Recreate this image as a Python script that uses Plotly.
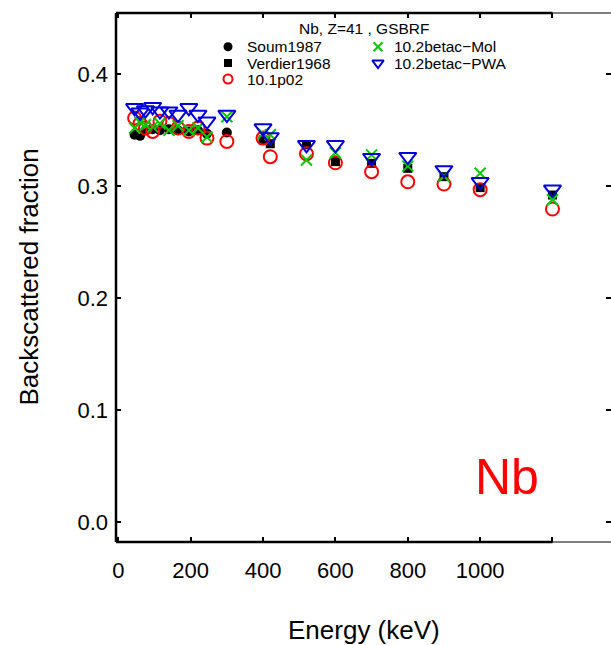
import plotly.graph_objects as go

# ---------------- data ----------------
soum_E = [45, 60, 75, 95, 115, 140, 165, 195, 220, 245, 300]
soum_v = [0.346, 0.345, 0.350, 0.351, 0.350, 0.351, 0.350, 0.349, 0.350, 0.347, 0.348]

verd_E = [400, 420, 520, 600, 700, 800, 900, 1000, 1200]
verd_v = [0.3413, 0.338, 0.337, 0.322, 0.3205, 0.316, 0.3086, 0.2988, 0.2922]

sim_E = [45, 60, 75, 95, 115, 140, 165, 195, 220, 245, 300, 400, 420, 520, 600, 700, 800, 900, 1000, 1200]
p02_v = [0.361, 0.356, 0.352, 0.349, 0.358, 0.356, 0.352, 0.349, 0.352, 0.343, 0.340,
         0.343, 0.3264, 0.329, 0.321, 0.313, 0.304, 0.302, 0.297, 0.2797]
mol_v = [0.352, 0.357, 0.355, 0.353, 0.356, 0.350, 0.354, 0.350, 0.352, 0.344, 0.362,
         0.347, 0.346, 0.3235, 0.330, 0.328, 0.318, 0.309, 0.3116, 0.288]
pwa_v = [0.370, 0.366, 0.368, 0.371, 0.367, 0.367, 0.364, 0.370, 0.364, 0.358, 0.364,
         0.352, 0.344, 0.337, 0.337, 0.3255, 0.3264, 0.3146, 0.304, 0.2973]

x_ticks = [0, 200, 400, 600, 800, 1000, 1200]
x_ticktext = ["0", "200", "400", "600", "800", "1000", ""]
y_ticks = [0.0, 0.1, 0.2, 0.3, 0.4]
y_ticktext = ["0.0", "0.1", "0.2", "0.3", "0.4"]

legend_title = "Nb, Z=41 , GSBRF"
legend_names = ["Soum1987", "Verdier1968", "10.1p02", "10.2betac\u2212Mol", "10.2betac\u2212PWA"]

# ---------------- styling ----------------
W, H = 611, 645
ML, MR, MT, MB = 116, 0, 13, 103
X_RANGE = [-6.4, 1361.7]
Y_RANGE = [-0.0176, 0.4547]
FONT = "Liberation Sans, Arial, sans-serif"
BLUE = "#0000DD"
GREEN = "#00CC00"
RED = "#FF0000"

fig = go.Figure()

fig.add_trace(go.Scatter(x=soum_E, y=soum_v, mode="markers", name=legend_names[0],
                         marker=dict(symbol="circle", size=10, color="black")))
fig.add_trace(go.Scatter(x=verd_E, y=verd_v, mode="markers", name=legend_names[1],
                         marker=dict(symbol="square", size=9, color="black")))
fig.add_trace(go.Scatter(x=sim_E, y=p02_v, mode="markers", name=legend_names[2],
                         marker=dict(symbol="circle-open", size=13, color=RED,
                                     line=dict(width=2, color=RED))))
fig.add_trace(go.Scatter(x=sim_E, y=mol_v, mode="markers", name=legend_names[3],
                         marker=dict(symbol="x-thin-open", size=11, color=GREEN,
                                     line=dict(width=2, color=GREEN))))
fig.add_trace(go.Scatter(x=sim_E, y=pwa_v, mode="markers", name=legend_names[4],
                         marker=dict(symbol="triangle-down-open", size=15, color=BLUE,
                                     line=dict(width=2, color=BLUE))))

# ---- manual legend drawn in pixel coordinates on an overlay axis pair ----
leg_rows = [46.7, 63.0, 79.0]
leg_cols = [(228, 245), (378, 392)]
leg_slots = [(0, 0), (0, 1), (0, 2), (1, 0), (1, 1)]
leg_sym = [
    dict(symbol="circle", size=9, color="black"),
    dict(symbol="square", size=8, color="black"),
    dict(symbol="circle-open", size=9, color=RED, line=dict(width=2, color=RED)),
    dict(symbol="x-thin-open", size=9, color=GREEN, line=dict(width=2, color=GREEN)),
    dict(symbol="triangle-down-open", size=10, color=BLUE, line=dict(width=2, color=BLUE)),
]
for i, (c, r) in enumerate(leg_slots):
    mx, tx = leg_cols[c]
    fig.add_trace(go.Scatter(x=[mx], y=[leg_rows[r]], mode="markers", marker=leg_sym[i],
                             xaxis="x2", yaxis="y2", showlegend=False, hoverinfo="skip"))
    fig.add_annotation(x=tx, y=leg_rows[r], xref="x2", yref="y2", text=legend_names[i],
                       showarrow=False, xanchor="left", yanchor="middle",
                       font=dict(family=FONT, size=15.5, color="black"))
fig.add_annotation(x=364, y=28.3, xref="x2", yref="y2", text=legend_title, showarrow=False,
                   xanchor="center", yanchor="middle",
                   font=dict(family=FONT, size=15.5, color="black"))

# element label
fig.add_annotation(x=1075, y=0.040, xref="x", yref="y", text="Nb", showarrow=False,
                   xanchor="center", yanchor="middle",
                   font=dict(family=FONT, size=50, color=RED))

# axis titles
plot_h = H - MT - MB
plot_w = W - ML - MR
fig.add_annotation(x=0.5, y=-(630 - (H - MB)) / plot_h, xref="paper", yref="paper",
                   text="Energy (keV)", showarrow=False, xanchor="center", yanchor="middle",
                   font=dict(family=FONT, size=26, color="black"))
fig.add_annotation(x=-(ML - 28) / plot_w, y=0.5, xref="paper", yref="paper",
                   text="Backscattered fraction", showarrow=False, textangle=-90,
                   xanchor="center", yanchor="middle",
                   font=dict(family=FONT, size=26, color="black"))

# frame lines
shapes = [
    dict(type="line", xref="paper", yref="paper", x0=0, x1=0, y0=0, y1=1,
         line=dict(color="black", width=2.5)),
    dict(type="line", xref="paper", yref="paper", x0=0, x1=1, y0=0, y1=0,
         line=dict(color="black", width=1.2)),
    dict(type="line", xref="paper", yref="paper", x0=0, x1=1, y0=1, y1=1,
         line=dict(color="black", width=1.2)),
    dict(type="line", xref="x", yref="paper", x0=X_RANGE[0], x1=x_ticks[-1], y0=0, y1=0,
         line=dict(color="black", width=2.6)),
    dict(type="line", xref="x", yref="paper", x0=X_RANGE[0], x1=x_ticks[-1], y0=1, y1=1,
         line=dict(color="black", width=2.6)),
]

fig.update_layout(
    width=W, height=H,
    margin=dict(l=ML, r=MR, t=MT, b=MB, pad=0),
    paper_bgcolor="white", plot_bgcolor="white",
    showlegend=False,
    font=dict(family=FONT, color="black"),
    shapes=shapes,
    xaxis=dict(range=X_RANGE, tickvals=x_ticks, ticktext=x_ticktext, ticks="inside",
               ticklen=5, tickwidth=2, tickcolor="black", mirror="ticks", showline=False,
               showgrid=False, zeroline=False, tickfont=dict(family=FONT, size=22),
               ticklabelstandoff=13),
    yaxis=dict(range=Y_RANGE, tickvals=y_ticks, ticktext=y_ticktext, ticks="inside",
               ticklen=5, tickwidth=2, tickcolor="black", mirror="ticks", showline=False,
               showgrid=False, zeroline=False, tickfont=dict(family=FONT, size=22),
               ticklabelstandoff=7),
    xaxis2=dict(range=[ML, W - MR], overlaying="x", visible=False, fixedrange=True),
    yaxis2=dict(range=[H - MB, MT], overlaying="y", visible=False, fixedrange=True),
)

fig.write_html("out.html")
